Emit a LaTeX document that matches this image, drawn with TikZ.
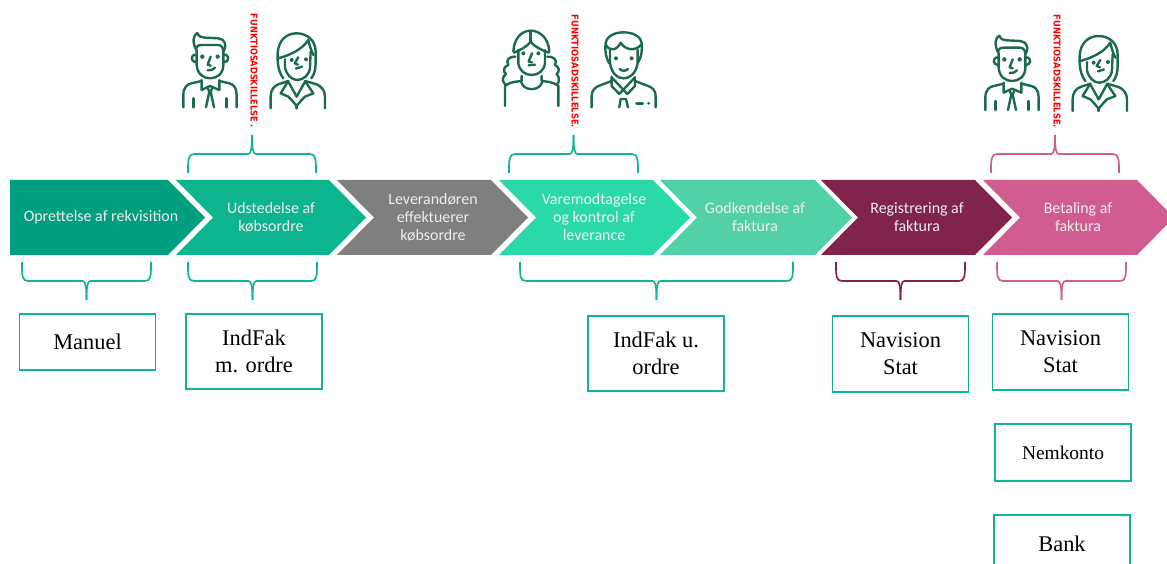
\documentclass[tikz,border=0pt]{standalone}
\usepackage{fontspec}
\setmainfont{Liberation Serif}
\newfontfamily\calib{Carlito}
\newfontfamily\arialb{DejaVu Sans}
\definecolor{cA}{HTML}{009F7F}
\definecolor{cB}{HTML}{0DB58F}
\definecolor{cC}{HTML}{7F7F7F}
\definecolor{cD}{HTML}{2BD9A8}
\definecolor{cE}{HTML}{52D1A9}
\definecolor{cF}{HTML}{80244B}
\definecolor{cG}{HTML}{D15C90}
\definecolor{boxc}{HTML}{0FB594}
\definecolor{persc}{HTML}{1B6B4B}
\tikzset{
  chevtext/.style={text=white!93!black,align=center,inner sep=0pt,font=\calib\fontsize{16}{18}\selectfont},
  toolbox/.style={draw=boxc,line width=1.7pt,fill=white,inner sep=0pt,align=center,font=\fontsize{22.5}{27}\selectfont,minimum width=136bp},
  brc/.style={line width=1.7pt,line cap=butt},
  persline/.style={draw=persc,line width=2.4pt,line cap=round,line join=round},
  sodtext/.style={text=red,rotate=-90,inner sep=0pt,font=\arialb\bfseries},
}
\newcommand{\chevron}[3]{\fill[#3] (#1,180) -- (#2,180) -- ({#2+37},217.5) -- (#2,255) -- (#1,255) -- ({#1+37},217.5) -- cycle;}
\newcommand{\lowbrace}[3]{\draw[brc,#3] (#1,262) .. controls (#1,276) and (#1,281) .. ({#1+6},281) -- ({(#1+#2)/2-4},281) .. controls ({(#1+#2)/2-1},281) and ({(#1+#2)/2},286) .. ({(#1+#2)/2},300);
\draw[brc,#3] (#2,262) .. controls (#2,276) and (#2,281) .. ({#2-6},281) -- ({(#1+#2)/2+4},281) .. controls ({(#1+#2)/2+1},281) and ({(#1+#2)/2},286) .. ({(#1+#2)/2},300);}
\newcommand{\topbrace}[3]{\draw[brc,#3] (#1,173) .. controls (#1,160) and (#1,154) .. ({#1+6},154) -- ({(#1+#2)/2-4},154) .. controls ({(#1+#2)/2-1},154) and ({(#1+#2)/2},149) .. ({(#1+#2)/2},135);
\draw[brc,#3] (#2,173) .. controls (#2,160) and (#2,154) .. ({#2-6},154) -- ({(#1+#2)/2+4},154) .. controls ({(#1+#2)/2+1},154) and ({(#1+#2)/2},149) .. ({(#1+#2)/2},135);}
\newcommand{\manA}{%
  \draw[persline] (78,148) .. controls (66,125) and (70,105) .. (82,99) .. controls (86,110) and (95,113) .. (105,113) -- (145,115) .. controls (165,117) and (170,135) .. (163,150);
  \draw[persline] (78,148) .. controls (80,138) and (85,135) .. (95,135) -- (145,135) .. controls (155,135) and (160,145) .. (161,155);
  \draw[persline] (80,150) -- (80,195) .. controls (82,222) and (100,235) .. (120,235) .. controls (140,235) and (160,222) .. (160,195) -- (160,150);
  \draw[persline] (80,165) .. controls (68,160) and (62,175) .. (68,182) .. controls (72,187) and (78,187) .. (80,185);
  \draw[persline] (160,165) .. controls (172,160) and (178,175) .. (172,182) .. controls (168,187) and (162,187) .. (160,185);
  \fill[persc] (97,170) circle (6.5) (143,170) circle (6.5);
  \draw[persline] (122,170) -- (113,194) -- (122,197);
  \draw[persline] (113,211) .. controls (122,212) and (130,209) .. (135,203);
  \draw[persline] (40,322) -- (40,285) .. controls (40,262) and (52,252) .. (65,250) -- (95,243);
  \draw[persline] (148,243) -- (178,250) .. controls (192,253) and (200,265) .. (200,285) -- (200,322);
  \draw[persline] (95,240) -- (95,270) -- (120,258) -- (148,270) -- (148,240);
  \draw[persline] (112,262) -- (118,275) -- (108,322);
  \draw[persline] (128,262) -- (122,275) -- (132,322);
  \draw[persline] (70,295) -- (70,322) (170,295) -- (170,322);
}
\newcommand{\womanA}{%
  \draw[persline] (340,235) .. controls (325,215) and (322,190) .. (323,160) .. controls (325,120) and (350,100) .. (380,100) .. controls (410,100) and (437,120) .. (437,155) -- (437,190) .. controls (437,210) and (432,225) .. (424,235);
  \draw[persline] (325,175) .. controls (360,165) and (395,150) .. (415,120) .. controls (418,135) and (423,150) .. (430,165);
  \draw[persline] (345,178) -- (345,203) .. controls (350,225) and (365,240) .. (382,240) .. controls (400,240) and (418,225) .. (420,203) -- (422,155);
  \fill[persc] (365,180) circle (6) (408,178) circle (6);
  \draw[persline] (385,172) -- (374,190) -- (384,194);
  \draw[persline] (378,206) -- (396,200);
  \draw[persline] (302,325) -- (302,290) .. controls (302,270) and (312,258) .. (325,253) -- (355,243);
  \draw[persline] (405,243) -- (440,253) .. controls (455,260) and (465,272) .. (465,290) -- (465,325);
  \draw[persline] (355,243) -- (332,280) -- (355,290) -- (365,300) -- (380,318) -- (395,300) -- (405,290) -- (430,280) -- (405,243);
  \draw[persline] (355,245) -- (380,290) -- (405,245);
  \draw[persline] (380,318) -- (380,325);
}
\newcommand{\womanB}{%
  \draw[persline] (70,155) .. controls (72,115) and (95,92) .. (122,92) .. controls (150,92) and (176,115) .. (178,155);
  \draw[persline] (122,92) -- (122,125);
  \draw[persline] (72,158) .. controls (90,150) and (112,140) .. (122,125) .. controls (132,140) and (155,150) .. (176,158);
  \draw[persline] (85,150) -- (85,190) .. controls (88,212) and (105,225) .. (125,225) .. controls (145,225) and (162,212) .. (165,190) -- (165,150);
  \fill[persc] (100,160) circle (6) (145,160) circle (6);
  \draw[persline] (126,160) -- (116,185) -- (126,187);
  \draw[persline] (116,196) -- (135,194);
  \draw[persline] (76,170) .. controls (60,168) and (45,180) .. (55,195) .. controls (40,200) and (38,215) .. (48,222) .. controls (35,230) and (35,250) .. (50,255);
  \draw[persline] (172,170) .. controls (188,168) and (205,180) .. (195,195) .. controls (208,200) and (210,215) .. (200,222) .. controls (210,232) and (208,248) .. (200,255);
  \draw[persline] (45,318) -- (45,258) .. controls (60,245) and (80,245) .. (95,243) -- (95,228);
  \draw[persline] (205,318) -- (205,258) .. controls (190,245) and (170,245) .. (155,243) -- (155,228);
  \draw[persline] (93,245) .. controls (100,275) and (150,275) .. (157,245);
}
\newcommand{\manB}{%
  \draw[persline] (358,190) .. controls (345,170) and (345,145) .. (347,130) .. controls (350,108) and (375,97) .. (400,97) .. controls (428,97) and (452,108) .. (455,130) .. controls (457,150) and (455,172) .. (443,190);
  \draw[persline] (348,135) .. controls (360,155) and (380,152) .. (392,128) .. controls (405,150) and (435,155) .. (453,135);
  \draw[persline] (360,150) -- (360,190) .. controls (365,218) and (380,235) .. (400,235) .. controls (422,235) and (438,218) .. (443,190) -- (443,150);
  \fill[persc] (378,175) circle (6) (425,175) circle (6);
  \draw[persline] (389,207) .. controls (395,214) and (408,214) .. (414,207);
  \draw[persline] (305,322) -- (305,288) .. controls (305,272) and (315,262) .. (328,257) -- (365,243);
  \draw[persline] (435,243) -- (472,257) .. controls (488,262) and (497,272) .. (497,288) -- (497,322);
  \draw[persline] (365,230) -- (365,258) -- (388,282) -- (435,232) -- (435,258) -- (412,282) -- (365,232);
  \draw[persline] (388,322) -- (392,297) -- (408,297) -- (414,322);
  \draw[persline,line width=3pt] (440,310) -- (458,310);
  \fill[persc] (476,310) circle (4.5);
}
\tikzset{zoomed/.style={x=0.3333bp,y=-0.3333bp}}
\begin{document}
\begin{tikzpicture}[x=1bp,y=-1bp]
\useasboundingbox (0,0) rectangle (1167,564);
\fill[cA] (10,180) -- (168,180) -- (205,217.5) -- (168,255) -- (10,255) -- cycle;
\chevron{176}{329}{cB}
\chevron{337}{491}{cC}
\chevron{499}{653}{cD}
\chevron{660}{815}{cE}
\chevron{821}{975}{cF}
\chevron{983}{1137}{cG}
\node[chevtext] (s1) at (101,217) {Oprettelse af rekvisition};
\node[chevtext] (s2) at (271,217) {Udstedelse af\\købsordre};
\node[chevtext] (s3) at (433,217) {Leverandøren\\effektuerer\\købsordre};
\node[chevtext] (s4) at (594,217) {Varemodtagelse\\og kontrol af\\leverance};
\node[chevtext] (s5) at (755,217) {Godkendelse af\\faktura};
\node[chevtext] (s6) at (917,217) {Registrering af\\faktura};
\node[chevtext] (s7) at (1078,217) {Betaling af\\faktura};
\topbrace{188}{316}{boxc}
\topbrace{509}{638}{boxc}
\topbrace{991}{1119}{cG}
\lowbrace{22}{151}{boxc}
\lowbrace{188}{317}{boxc}
\lowbrace{520}{793}{boxc}
\lowbrace{836}{965}{cF}
\lowbrace{997}{1126}{cG}
\node[toolbox,minimum height=56bp] (b1) at (87.5,342) {Manuel};
\node[toolbox,minimum height=75bp] (b2) at (254,351.5) {IndFak\\m. ordre};
\node[toolbox,minimum height=75bp] (b3) at (656,353.5) {IndFak u.\\ordre};
\node[toolbox,minimum height=76bp] (b4) at (900.5,354) {Navision\\Stat};
\node[toolbox,minimum height=76bp] (b5) at (1060.5,352) {Navision\\Stat};
\node[toolbox,minimum height=57bp,font=\fontsize{19.5}{24}\selectfont] (b6) at (1063,452.5) {Nemkonto};
\node[toolbox,minimum height=57bp] (b7) at (1062,543.5) {Bank};
\begin{scope}[shift={(170,0)},zoomed]\manA\womanA\end{scope}
\begin{scope}[shift={(490,0)},zoomed]\womanB\manB\end{scope}
\begin{scope}[shift={(972,2.7)},zoomed]\manA\womanA\end{scope}
\node[sodtext] (f1) at (254,71) {\resizebox{114bp}{7bp}{FUNKTIOSADSKILLELSE .}};
\node[sodtext] (f2) at (575,71.5) {\resizebox{113bp}{7bp}{FUNKTIOSADSKILLELSE.}};
\node[sodtext] (f3) at (1057,71.5) {\resizebox{113bp}{7bp}{FUNKTIOSADSKILLELSE.}};
\end{tikzpicture}
\end{document}
